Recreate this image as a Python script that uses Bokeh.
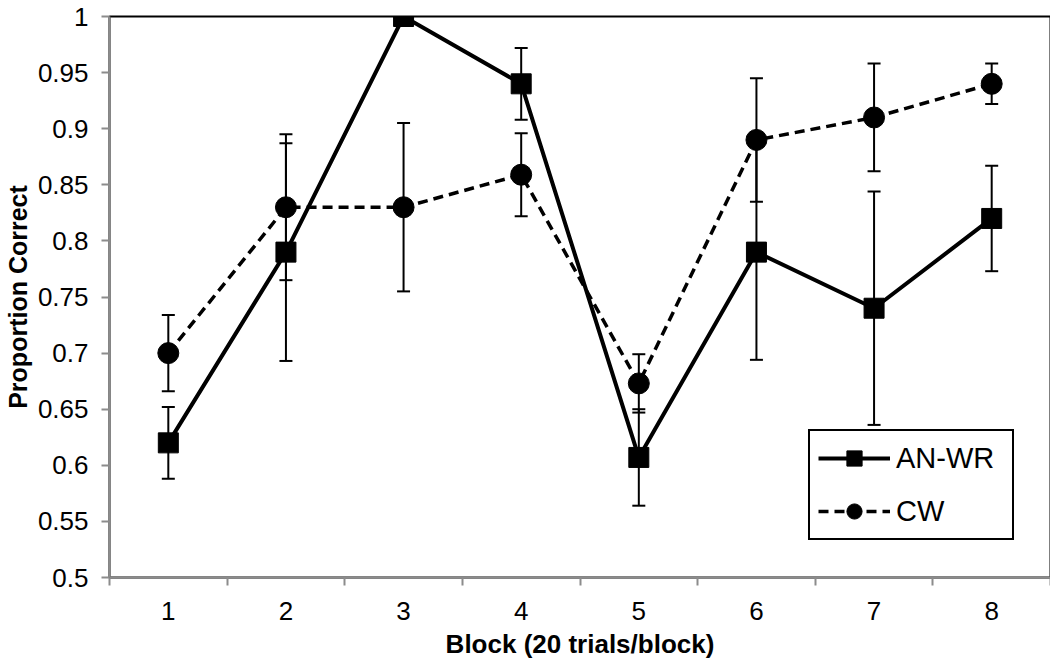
from bokeh.plotting import figure
from bokeh.models import (ColumnDataSource, Whisker, FixedTicker, Range1d,
                          Legend, LegendItem)
from bokeh.embed import file_html
from bokeh.resources import INLINE

blocks = [1, 2, 3, 4, 5, 6, 7, 8]
an_wr = [0.62, 0.79, 1.0, 0.94, 0.607, 0.79, 0.74, 0.82]
an_wr_err = [0.032, 0.097, 0.0, 0.032, 0.043, 0.096, 0.104, 0.047]
cw = [0.70, 0.83, 0.83, 0.859, 0.673, 0.89, 0.91, 0.94]
cw_err = [0.034, 0.065, 0.075, 0.037, 0.026, 0.055, 0.048, 0.018]
y_ticks = [0.5, 0.55, 0.6, 0.65, 0.7, 0.75, 0.8, 0.85, 0.9, 0.95, 1.0]
y_tick_labels = ["0.5", "0.55", "0.6", "0.65", "0.7", "0.75", "0.8", "0.85", "0.9", "0.95", "1"]
x_bounds = [0.5, 1.5, 2.5, 3.5, 4.5, 5.5, 6.5, 7.5, 8.5]

FONT = "Liberation Sans"

src_a = ColumnDataSource(dict(x=blocks, y=an_wr,
                              lo=[v - e for v, e in zip(an_wr, an_wr_err)],
                              hi=[v + e for v, e in zip(an_wr, an_wr_err)]))
src_c = ColumnDataSource(dict(x=blocks, y=cw,
                              lo=[v - e for v, e in zip(cw, cw_err)],
                              hi=[v + e for v, e in zip(cw, cw_err)]))

p = figure(frame_width=941, frame_height=561, output_backend="svg",
           toolbar_location=None, x_range=Range1d(0.5, 8.5),
           y_range=Range1d(0.5, 1.0))
p.min_border_left = 107
p.min_border_right = 2
p.min_border_top = 16
p.min_border_bottom = 83
p.background_fill_color = "white"
p.border_fill_color = "white"
p.outline_line_color = "black"
p.outline_line_width = 2
p.outline_line_alpha = 1
p.xgrid.visible = False
p.ygrid.visible = False

# error bars
for src in (src_a, src_c):
    w = Whisker(source=src, base="x", lower="lo", upper="hi",
                line_color="black", line_width=2, level="underlay")
    w.upper_head.size = 13
    w.lower_head.size = 13
    w.upper_head.line_width = 2
    w.lower_head.line_width = 2
    p.add_layout(w)

la = p.line("x", "y", source=src_a, line_color="black", line_width=4)
sa = p.scatter("x", "y", source=src_a, marker="square", size=20,
               fill_color="black", line_color="black")
lc = p.line("x", "y", source=src_c, line_color="black", line_width=3.5,
            line_dash="10 6")
sc = p.scatter("x", "y", source=src_c, marker="circle", size=21,
               fill_color="black", line_color="black")

# axes
p.yaxis.ticker = FixedTicker(ticks=y_ticks, minor_ticks=[])
p.yaxis.major_label_overrides = {t: l for t, l in zip(y_ticks, y_tick_labels)}
p.xaxis.ticker = FixedTicker(ticks=blocks, minor_ticks=x_bounds)
for ax in (p.xaxis, p.yaxis):
    ax.axis_line_color = "#8c8c8c"
    ax.axis_line_width = 2
    ax.major_label_text_font = FONT
    ax.major_label_text_font_size = "26px"
    ax.major_label_text_color = "black"
    ax.axis_label_text_font = FONT
    ax.axis_label_text_font_style = "bold"
    ax.axis_label_text_color = "black"
p.yaxis.major_tick_line_color = "#8c8c8c"
p.yaxis.major_tick_line_width = 2
p.yaxis.major_tick_out = 8
p.yaxis.major_tick_in = 0
p.yaxis.minor_tick_line_color = None
p.yaxis.major_label_standoff = 13
p.yaxis.axis_label = "Proportion Correct"
p.yaxis.axis_label_text_font_size = "25px"
p.yaxis.axis_label_standoff = 3

p.xaxis.major_tick_line_color = None
p.xaxis.minor_tick_line_color = "#8c8c8c"
p.xaxis.minor_tick_line_width = 2
p.xaxis.minor_tick_out = 8
p.xaxis.minor_tick_in = 0
p.xaxis.major_label_standoff = 16
p.xaxis.axis_label = "Block (20 trials/block)"
p.xaxis.axis_label_text_font_size = "26px"
p.xaxis.axis_label_standoff = 6

legend = Legend(items=[LegendItem(label="AN-WR", renderers=[la, sa]),
                       LegendItem(label="CW", renderers=[lc, sc])],
                location=(699, 37))
legend.label_text_font = FONT
legend.label_text_font_size = "29px"
legend.label_text_color = "black"
legend.border_line_color = "black"
legend.border_line_width = 2
legend.border_line_alpha = 1
legend.background_fill_color = "white"
legend.background_fill_alpha = 1
legend.glyph_width = 72
legend.glyph_height = 38
legend.label_height = 38
legend.label_width = 108
legend.spacing = 15
legend.padding = 8
legend.margin = 0
legend.label_standoff = 6
p.add_layout(legend)

open("out.html", "w").write(file_html(p, INLINE))
